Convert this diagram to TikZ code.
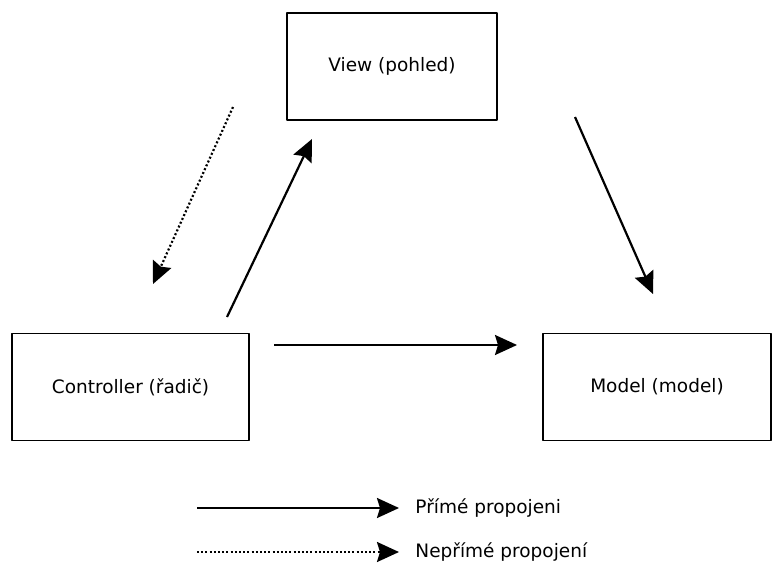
\documentclass[tikz,border=0pt]{standalone}
\usepackage{fontspec}
\setmainfont{DejaVu Sans}
\usetikzlibrary{arrows.meta}
\tikzset{
  box/.style={draw, line width=1.8pt, minimum width=#1, minimum height=107pt, inner sep=0pt, font=\fontsize{18.5}{22}\selectfont},
  link/.style={line width=2.2pt, -{Stealth[length=22pt,width=20pt,inset=3pt]}},
  weak/.style={link, dash pattern=on 2pt off 2.2pt},
}
\begin{document}
\begin{tikzpicture}[x=1pt, y=-1pt, line join=round]
	\useasboundingbox (0,0) rectangle (773,567);
	\node[box=210pt] (view) at (392,66.5) {View (pohled)};
	\node[box=237pt] (ctrl) at (130.5,387) {Controller (řadič)};
	\node[box=228pt] (model) at (657,387) {Model (model)};
	% free ends of the connectors
	\coordinate (d1) at (233,107); \coordinate (d2) at (153,284);
	\coordinate (c1) at (227,317); \coordinate (c2) at (312,139);
	\coordinate (v1) at (575,117); \coordinate (v2) at (653,294);
	\coordinate (m1) at (274,345); \coordinate (m2) at (517,345);
	\draw[weak] (d1)--(d2);
	\draw[link] (c1)--(c2);
	\draw[link] (v1)--(v2);
	\draw[link] (m1)--(m2);
	% legend
	\coordinate (l1) at (197,508); \coordinate (l2) at (399,508);
	\coordinate (l3) at (197,552); \coordinate (l4) at (399,552);
	\draw[link] (l1)--(l2) node[right=12pt, font=\fontsize{18.5}{22}\selectfont] (lt1) {Přímé propojeni};
	\draw[weak] (l3)--(l4) node[right=12pt, font=\fontsize{18.5}{22}\selectfont] (lt2) {Nepřímé propojení};
\end{tikzpicture}
\end{document}
